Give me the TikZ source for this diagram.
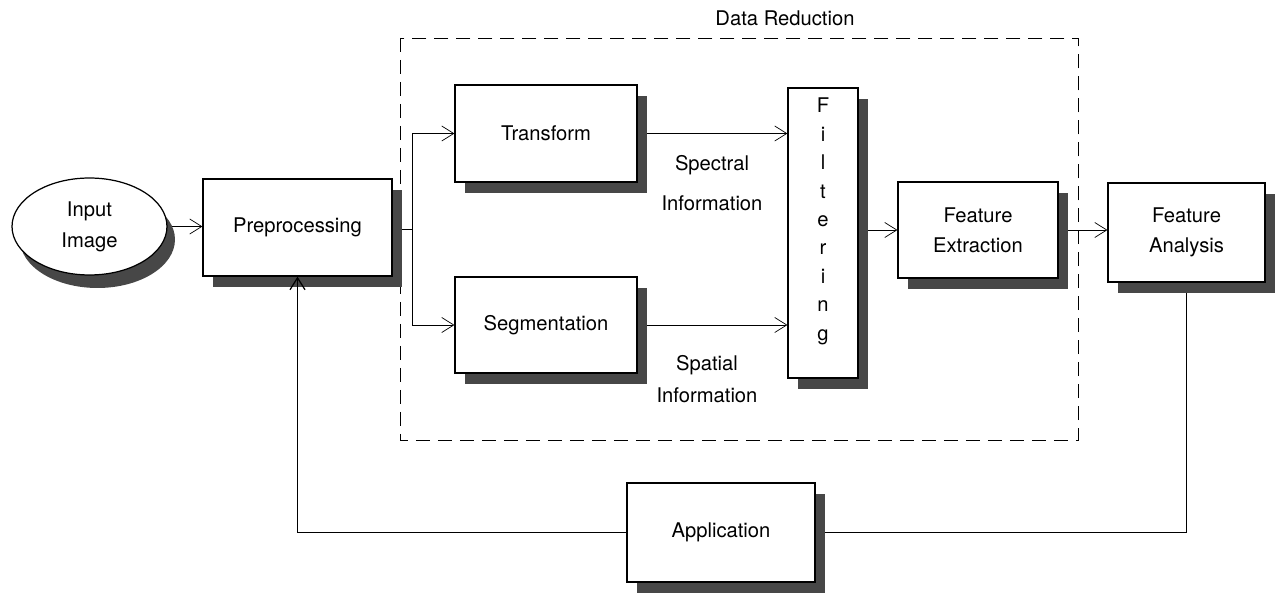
\documentclass[tikz,border=0pt]{standalone}
\usepackage{fontspec}
\setmainfont{TeX Gyre Heros}
\usetikzlibrary{shapes.geometric,shadows,arrows.meta,backgrounds}

\begin{document}
\begin{tikzpicture}[x=0.02cm, y=-0.02cm, line width=0.7pt,
	blk/.style={draw, fill=white, inner sep=2pt, align=center,
		font=\fontsize{11.5}{17}\selectfont,
		drop shadow={shadow xshift=0.2cm, shadow yshift=-0.22cm, fill=black!72, opacity=1}},
	oval/.style={ellipse, draw, fill=white, inner sep=1pt, align=center,
		font=\fontsize{11.5}{17.5}\selectfont,
		drop shadow={shadow xshift=0.16cm, shadow yshift=-0.26cm, fill=black!72, opacity=1}},
	txt/.style={font=\fontsize{11.5}{14}\selectfont, inner sep=0pt},
	arr/.style={-{Straight Barb[length=2.4mm,width=3mm]}}]
	
	\useasboundingbox (0,0) rectangle (1275,594);
	
	\node[oval, minimum width=3.1cm, minimum height=1.94cm] (inp) at (89.5,226.5) {Input\\Image};
	\node[blk, minimum width=3.78cm, minimum height=1.94cm] (pre) at (297.5,227.5) {Preprocessing};
	\node[blk, minimum width=3.64cm, minimum height=1.94cm] (tra) at (546,133.5) {Transform};
	\node[blk, minimum width=3.64cm, minimum height=1.92cm] (seg) at (546,325)   {Segmentation};
	\node[blk, minimum width=1.4cm,  minimum height=5.8cm]  (fil) at (823,233)   {};
	\foreach \c [count=\i] in {F,i,l,t,e,r,i,n,g}
		\node[txt, anchor=base] (fil\i) at (823,{113+(\i-1)*28.4}) {\c};
	\node[blk, minimum width=3.2cm,  minimum height=1.92cm] (fex) at (978,230)    {Feature\\Extraction};
	\node[blk, minimum width=3.14cm, minimum height=1.98cm] (fan) at (1186.5,232.5) {Feature\\Analysis};
	\node[blk, minimum width=3.76cm, minimum height=1.98cm] (app) at (721,532.5)  {Application};
	
	\node[txt] (ttl) at (785,18) {Data Reduction};
	\node[txt, align=center] (spec) at (712,183) {Spectral\\[8.7pt]Information};
	\node[txt, align=center] (spat) at (707,379) {Spatial\\[4pt]Information};
	
	\begin{scope}[on background layer]
		\draw[dash pattern=on 0.28cm off 0.16cm] (400,38) rectangle (1078,440);
		\coordinate (br) at (412,229);
		\draw[arr] (inp.east) -- (inp.east -| pre.west);
		\draw[arr] (pre.east |- br) -- (br) |- (tra.west);
		\draw[arr] (br) |- (seg.west);
		\draw[arr] (tra.east) -- (tra.east -| fil.west);
		\draw[arr] (seg.east) -- (seg.east -| fil.west);
		\draw[arr] (fil.east |- fex.west) -- (fex.west);
		\draw[arr] (fex.east) -- (fex.east -| fan.west);
		\draw (fan.south) |- (app.east);
	\end{scope}
	\draw[arr] (app.west) -| (pre.south);
	
\end{tikzpicture}
\end{document}
